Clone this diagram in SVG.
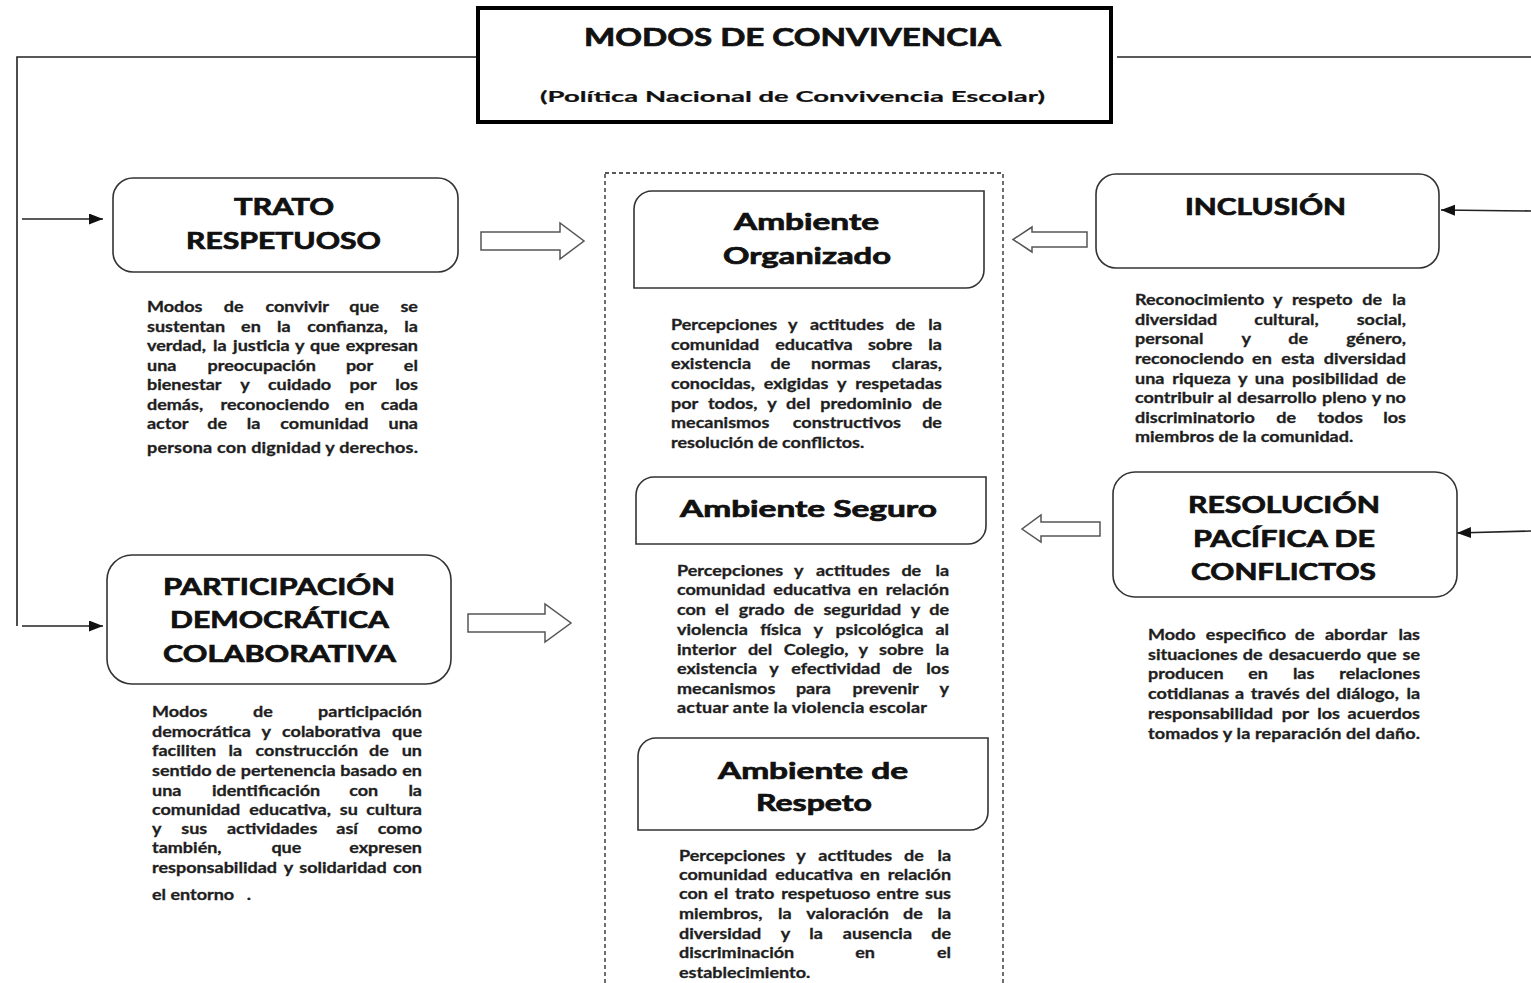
<svg xmlns="http://www.w3.org/2000/svg" width="1531" height="983" viewBox="0 0 1531 983">
<defs>
<marker id="ah" markerUnits="userSpaceOnUse" markerWidth="16" markerHeight="12" refX="14" refY="5.5" orient="auto">
<path d="M0,0 L14,5.5 L0,11 Z" fill="#111"/>
</marker>
<style>
.h{font-family:Lato,"Liberation Sans",sans-serif;font-weight:700;fill:#111;stroke:#111;stroke-width:0.7;}
.sub{stroke-width:0.2;}
.d{font-family:Lato,"Liberation Sans",sans-serif;font-weight:700;font-size:15px;fill:#1e1e1e;stroke:#1e1e1e;stroke-width:0.3;}
.e{text-anchor:end;}
.box{fill:#fff;stroke:#333;stroke-width:1.6;}
.amb{fill:#fff;stroke:#333;stroke-width:1.6;}
.blk{fill:#fff;stroke:#555;stroke-width:1.5;}
.ln{fill:none;stroke:#222;stroke-width:1.6;}
</style>
</defs>
<rect width="1531" height="983" fill="#fff"/>

<g id="connectors">
<path class="ln" d="M477,57 H17 V626"/>
<path class="ln" d="M1117,57 H1531"/>
<path class="ln" d="M22,219 H103" marker-end="url(#ah)"/>
<path class="ln" d="M22,626 H103" marker-end="url(#ah)"/>
<path class="ln" d="M1531,211 L1441,210" marker-end="url(#ah)"/>
<path class="ln" d="M1531,531 L1457,533" marker-end="url(#ah)"/>
<polygon class="blk" points="481,232 560,232 560,223 584,241 560,259 560,250 481,250"/>
<polygon class="blk" points="468,614 545,614 545,604 571,623 545,642 545,632 468,632"/>
<polygon class="blk" points="1087,232 1032,232 1032,227 1013,239.5 1032,252 1032,247 1087,247"/>
<polygon class="blk" points="1100,522 1041,522 1041,515 1022,529 1041,542 1041,536 1100,536"/>
</g>

<g id="title">
<rect x="478" y="8" width="633" height="114" fill="#fff" stroke="#000" stroke-width="4"/>
<text class="h" x="584" y="46" font-size="24" textLength="417" lengthAdjust="spacingAndGlyphs">MODOS DE CONVIVENCIA</text>
<text class="h sub" x="540" y="102" font-size="16" textLength="505" lengthAdjust="spacingAndGlyphs">(Política Nacional de Convivencia Escolar)</text>
</g>

<g id="ambientes">
<rect x="605" y="173" width="398" height="840" fill="none" stroke="#222" stroke-width="1.3" stroke-dasharray="4 3"/>
</g>

<g id="trato">
<rect class="box" x="113" y="178" width="345" height="94" rx="20"/>
<text class="h" x="234" y="215" font-size="22" textLength="100" lengthAdjust="spacingAndGlyphs">TRATO</text>
<text class="h" x="186" y="249" font-size="22" textLength="195" lengthAdjust="spacingAndGlyphs">RESPETUOSO</text>
<g class="d" transform="translate(147,0) scale(1.2,1)">
<text y="312"><tspan x="0">Modos</tspan><tspan x="64">de</tspan><tspan x="98.75">convivir</tspan><tspan x="168.5">que</tspan><tspan x="225.8" class="e">se</tspan></text>
<text y="332"><tspan x="0">sustentan</tspan><tspan x="78.4">en</tspan><tspan x="108.3">la</tspan><tspan x="133.5">confianza,</tspan><tspan x="225.8" class="e">la</tspan></text>
<text y="351"><tspan x="0">verdad,</tspan><tspan x="55">la</tspan><tspan x="71.75">justicia</tspan><tspan x="123.3">y</tspan><tspan x="135.8">que</tspan><tspan x="225.8" class="e">expresan</tspan></text>
<text y="371"><tspan x="0">una</tspan><tspan x="50.5">preocupación</tspan><tspan x="165.75">por</tspan><tspan x="225.8" class="e">el</tspan></text>
<text y="390"><tspan x="0">bienestar</tspan><tspan x="77.7">y</tspan><tspan x="100.8">cuidado</tspan><tspan x="168.8">por</tspan><tspan x="225.8" class="e">los</tspan></text>
<text y="410"><tspan x="0">demás,</tspan><tspan x="61.3">reconociendo</tspan><tspan x="164.8">en</tspan><tspan x="225.8" class="e">cada</tspan></text>
<text y="429"><tspan x="0">actor</tspan><tspan x="50.3">de</tspan><tspan x="83.1">la</tspan><tspan x="111.1">comunidad</tspan><tspan x="225.8" class="e">una</tspan></text>
<text x="0" y="453" textLength="225.8" lengthAdjust="spacing">persona con dignidad y derechos.</text>
</g>
</g>

<g id="participacion">
<rect class="box" x="107" y="555" width="344" height="129" rx="25"/>
<text class="h" x="163" y="595" font-size="23" textLength="232" lengthAdjust="spacingAndGlyphs">PARTICIPACIÓN</text>
<text class="h" x="170" y="628" font-size="23" textLength="219" lengthAdjust="spacingAndGlyphs">DEMOCRÁTICA</text>
<text class="h" x="163" y="662" font-size="23" textLength="233" lengthAdjust="spacingAndGlyphs">COLABORATIVA</text>
<g class="d" transform="translate(152,0) scale(1.2,1)">
<text y="717"><tspan x="0">Modos</tspan><tspan x="84.25">de</tspan><tspan x="225" class="e">participación</tspan></text>
<text y="737"><tspan x="0">democrática</tspan><tspan x="91.3">y</tspan><tspan x="108.4">colaborativa</tspan><tspan x="225" class="e">que</tspan></text>
<text y="756"><tspan x="0">faciliten</tspan><tspan x="63.8">la</tspan><tspan x="86.3">construcción</tspan><tspan x="180.8">de</tspan><tspan x="225" class="e">un</tspan></text>
<text y="776"><tspan x="0">sentido</tspan><tspan x="53.3">de</tspan><tspan x="73.9">pertenencia</tspan><tspan x="156.9">basado</tspan><tspan x="225" class="e">en</tspan></text>
<text y="796"><tspan x="0">una</tspan><tspan x="50">identificación</tspan><tspan x="164.3">con</tspan><tspan x="225" class="e">la</tspan></text>
<text y="815"><tspan x="0">comunidad</tspan><tspan x="81">educativa,</tspan><tspan x="156.5">su</tspan><tspan x="225" class="e">cultura</tspan></text>
<text y="834"><tspan x="0">y</tspan><tspan x="24.4">sus</tspan><tspan x="62.4">actividades</tspan><tspan x="153.6">así</tspan><tspan x="225" class="e">como</tspan></text>
<text y="853"><tspan x="0">también,</tspan><tspan x="99.5">que</tspan><tspan x="225" class="e">expresen</tspan></text>
<text y="873"><tspan x="0">responsabilidad</tspan><tspan x="109.9">y</tspan><tspan x="122.75">solidaridad</tspan><tspan x="225" class="e">con</tspan></text>
<text y="900"><tspan x="0">el entorno</tspan><tspan x="79">.</tspan></text>
</g>
</g>

<g id="ambiente-organizado">
<path class="amb" d="M634,209 A18,18 0 0 1 652,191 H984 V270 A18,18 0 0 1 966,288 H634 Z"/>
<text class="h" x="734" y="230" font-size="22" textLength="145" lengthAdjust="spacingAndGlyphs">Ambiente</text>
<text class="h" x="723" y="264" font-size="22" textLength="168" lengthAdjust="spacingAndGlyphs">Organizado</text>
<g class="d" transform="translate(671,0) scale(1.2,1)">
<text y="330"><tspan x="0">Percepciones</tspan><tspan x="97.6">y</tspan><tspan x="115.75">actitudes</tspan><tspan x="187">de</tspan><tspan x="225.8" class="e">la</tspan></text>
<text y="350"><tspan x="0">comunidad</tspan><tspan x="86.8">educativa</tspan><tspan x="164.1">sobre</tspan><tspan x="225.8" class="e">la</tspan></text>
<text y="369"><tspan x="0">existencia</tspan><tspan x="83">de</tspan><tspan x="116.75">normas</tspan><tspan x="225.8" class="e">claras,</tspan></text>
<text y="389"><tspan x="0">conocidas,</tspan><tspan x="77.25">exigidas</tspan><tspan x="138.25">y</tspan><tspan x="225.8" class="e">respetadas</tspan></text>
<text y="409"><tspan x="0">por</tspan><tspan x="30.75">todos,</tspan><tspan x="80.3">y</tspan><tspan x="95.9">del</tspan><tspan x="124.4">predominio</tspan><tspan x="225.8" class="e">de</tspan></text>
<text y="428"><tspan x="0">mecanismos</tspan><tspan x="101.5">constructivos</tspan><tspan x="225.8" class="e">de</tspan></text>
<text x="0" y="448">resolución de conflictos.</text>
</g>
</g>

<g id="ambiente-seguro">
<path class="amb" d="M636,495 A18,18 0 0 1 654,477 H986 V526 A18,18 0 0 1 968,544 H636 Z"/>
<text class="h" x="680" y="517" font-size="22" textLength="257" lengthAdjust="spacingAndGlyphs">Ambiente Seguro</text>
<g class="d" transform="translate(677,0) scale(1.2,1)">
<text y="576"><tspan x="0">Percepciones</tspan><tspan x="97.6">y</tspan><tspan x="115.75">actitudes</tspan><tspan x="187">de</tspan><tspan x="226.7" class="e">la</tspan></text>
<text y="595"><tspan x="0">comunidad</tspan><tspan x="80.25">educativa</tspan><tspan x="150.9">en</tspan><tspan x="226.7" class="e">relación</tspan></text>
<text y="615"><tspan x="0">con</tspan><tspan x="31.7">el</tspan><tspan x="51.5">grado</tspan><tspan x="97.5">de</tspan><tspan x="122">seguridad</tspan><tspan x="194.7">y</tspan><tspan x="226.7" class="e">de</tspan></text>
<text y="635"><tspan x="0">violencia</tspan><tspan x="69.4">física</tspan><tspan x="113.75">y</tspan><tspan x="132">psicológica</tspan><tspan x="226.7" class="e">al</tspan></text>
<text y="655"><tspan x="0">interior</tspan><tspan x="59.1">del</tspan><tspan x="89">Colegio,</tspan><tspan x="151.3">y</tspan><tspan x="168.4">sobre</tspan><tspan x="226.7" class="e">la</tspan></text>
<text y="674"><tspan x="0">existencia</tspan><tspan x="76.8">y</tspan><tspan x="95.3">efectividad</tspan><tspan x="179.5">de</tspan><tspan x="226.7" class="e">los</tspan></text>
<text y="694"><tspan x="0">mecanismos</tspan><tspan x="99.1">para</tspan><tspan x="146.25">prevenir</tspan><tspan x="226.7" class="e">y</tspan></text>
<text x="0" y="713" textLength="208.3" lengthAdjust="spacing">actuar ante la violencia escolar</text>
</g>
</g>

<g id="ambiente-respeto">
<path class="amb" d="M638,756 A18,18 0 0 1 656,738 H988 V812 A18,18 0 0 1 970,830 H638 Z"/>
<text class="h" x="718" y="779" font-size="22" textLength="190" lengthAdjust="spacingAndGlyphs">Ambiente de</text>
<text class="h" x="756" y="811" font-size="22" textLength="116" lengthAdjust="spacingAndGlyphs">Respeto</text>
<g class="d" transform="translate(679,0) scale(1.2,1)">
<text y="861"><tspan x="0">Percepciones</tspan><tspan x="97.75">y</tspan><tspan x="116.1">actitudes</tspan><tspan x="187.5">de</tspan><tspan x="226.7" class="e">la</tspan></text>
<text y="880"><tspan x="0">comunidad</tspan><tspan x="80.2">educativa</tspan><tspan x="150.9">en</tspan><tspan x="226.7" class="e">relación</tspan></text>
<text y="899"><tspan x="0">con</tspan><tspan x="29.25">el</tspan><tspan x="46.7">trato</tspan><tspan x="85.2">respetuoso</tspan><tspan x="164.5">entre</tspan><tspan x="226.7" class="e">sus</tspan></text>
<text y="919"><tspan x="0">miembros,</tspan><tspan x="82.5">la</tspan><tspan x="106.1">valoración</tspan><tspan x="186.7">de</tspan><tspan x="226.7" class="e">la</tspan></text>
<text y="939"><tspan x="0">diversidad</tspan><tspan x="84.75">y</tspan><tspan x="108.5">la</tspan><tspan x="136.5">ausencia</tspan><tspan x="226.7" class="e">de</tspan></text>
<text y="958"><tspan x="0">discriminación</tspan><tspan x="146.9">en</tspan><tspan x="226.7" class="e">el</tspan></text>
<text x="0" y="978">establecimiento.</text>
</g>
</g>

<g id="inclusion">
<rect class="box" x="1096" y="174" width="343" height="94" rx="20"/>
<text class="h" x="1185" y="215" font-size="22" textLength="161" lengthAdjust="spacingAndGlyphs">INCLUSIÓN</text>
<g class="d" transform="translate(1135,0) scale(1.2,1)">
<text y="305"><tspan x="0">Reconocimiento</tspan><tspan x="115">y</tspan><tspan x="130.75">respeto</tspan><tspan x="189.4">de</tspan><tspan x="225.8" class="e">la</tspan></text>
<text y="325"><tspan x="0">diversidad</tspan><tspan x="99.35">cultural,</tspan><tspan x="225.8" class="e">social,</tspan></text>
<text y="344"><tspan x="0">personal</tspan><tspan x="88.7">y</tspan><tspan x="127.7">de</tspan><tspan x="225.8" class="e">género,</tspan></text>
<text y="364"><tspan x="0">reconociendo</tspan><tspan x="97.6">en</tspan><tspan x="121.9">esta</tspan><tspan x="225.8" class="e">diversidad</tspan></text>
<text y="384"><tspan x="0">una</tspan><tspan x="31.1">riqueza</tspan><tspan x="85.9">y</tspan><tspan x="99.7">una</tspan><tspan x="130.75">posibilidad</tspan><tspan x="225.8" class="e">de</tspan></text>
<text y="403"><tspan x="0">contribuir</tspan><tspan x="69.25">al</tspan><tspan x="85.1">desarrollo</tspan><tspan x="155.8">pleno</tspan><tspan x="197.3">y</tspan><tspan x="225.8" class="e">no</tspan></text>
<text y="423"><tspan x="0">discriminatorio</tspan><tspan x="117.8">de</tspan><tspan x="152.1">todos</tspan><tspan x="225.8" class="e">los</tspan></text>
<text x="0" y="442">miembros de la comunidad.</text>
</g>
</g>

<g id="resolucion">
<rect class="box" x="1113" y="472" width="344" height="125" rx="22"/>
<text class="h" x="1188" y="513" font-size="23" textLength="192" lengthAdjust="spacingAndGlyphs">RESOLUCIÓN</text>
<text class="h" x="1193" y="547" font-size="23" textLength="182" lengthAdjust="spacingAndGlyphs">PACÍFICA DE</text>
<text class="h" x="1191" y="580" font-size="23" textLength="185" lengthAdjust="spacingAndGlyphs">CONFLICTOS</text>
<g class="d" transform="translate(1148,0) scale(1.2,1)">
<text y="640"><tspan x="0">Modo</tspan><tspan x="48.2">especifico</tspan><tspan x="122.25">de</tspan><tspan x="147.5">abordar</tspan><tspan x="226.7" class="e">las</tspan></text>
<text y="660"><tspan x="0">situaciones</tspan><tspan x="79">de</tspan><tspan x="100.7">desacuerdo</tspan><tspan x="182.2">que</tspan><tspan x="226.7" class="e">se</tspan></text>
<text y="679"><tspan x="0">producen</tspan><tspan x="83.5">en</tspan><tspan x="120.75">las</tspan><tspan x="226.7" class="e">relaciones</tspan></text>
<text y="699"><tspan x="0">cotidianas</tspan><tspan x="72.6">a</tspan><tspan x="85.6">través</tspan><tspan x="131.5">del</tspan><tspan x="157">diálogo,</tspan><tspan x="226.7" class="e">la</tspan></text>
<text y="719"><tspan x="0">responsabilidad</tspan><tspan x="111.5">por</tspan><tspan x="141.1">los</tspan><tspan x="226.7" class="e">acuerdos</tspan></text>
<text x="0" y="739" textLength="226.7" lengthAdjust="spacing">tomados y la reparación del daño.</text>
</g>
</g>
</svg>
